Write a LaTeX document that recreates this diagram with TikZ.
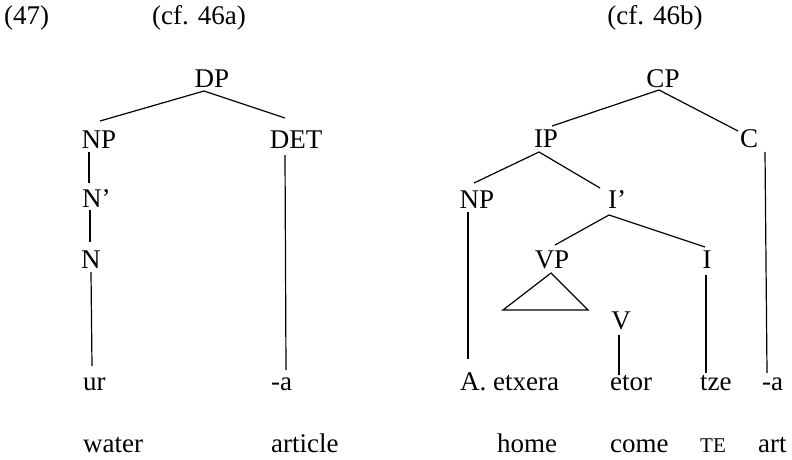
\documentclass[tikz,border=0pt]{standalone}
\usepackage{fontspec}
\setmainfont{Liberation Serif}
\begin{document}
\begin{tikzpicture}[x=1pt,y=-1pt,
  lab/.style={inner sep=0pt,font=\fontsize{27}{32}\selectfont},
  cat/.style={lab,anchor=base},
  word/.style={lab,anchor=base west},
  edge/.style={line width=1.2pt,black}]
\useasboundingbox (0,0) rectangle (792,460);
% headings
\node[word] (ex) at (4,25) {(47)};
\node[cat] (cfa) at (199,25) {(cf. 46a)};
\node[cat] (cfb) at (655,25) {(cf. 46b)};
% left tree
\node[cat] (DP) at (212,88) {DP};
\node[cat] (NPa) at (99,148) {NP};
\node[cat] (DET) at (296,148) {DET};
\node[word] (Nbar) at (82,207) {N’};
\node[word] (N) at (81,268) {N};
\node[word] (ur) at (83,390) {ur};
\node[word] (water) at (83,452) {water};
\node[word] (aa) at (271,390) {-a};
\node[word] (article) at (271,452) {article};
\draw[edge] ([shift={(-8,3)}]DP.base) -- ([shift={(1,-27)}]NPa.base);
\draw[edge] ([shift={(-8,3)}]DP.base) -- ([shift={(-11,-30)}]DET.base);
\draw[edge] ([shift={(-10,4)}]NPa.base) -- ([shift={(7,-24)}]Nbar.base west);
\draw[edge] ([shift={(8,3)}]Nbar.base west) -- ([shift={(9,-26)}]N.base west);
\draw[edge] ([shift={(10,4)}]N.base west) -- ([shift={(9,-24)}]ur.base west);
\draw[edge] ([shift={(-11,7)}]DET.base) -- ([shift={(15,-20)}]aa.base west);
% right tree
\node[cat] (CP) at (663,88) {CP};
\node[cat] (IP) at (546,147) {IP};
\node[cat] (C) at (749,147) {C};
\node[cat] (NPb) at (477,208) {NP};
\node[word] (Ibar) at (608,208) {I’};
\node[cat] (VP) at (552,268) {VP};
\node[cat] (I) at (707,268) {I};
\node[cat] (V) at (621,329) {V};
\node[word] (etxera) at (460,390) {A. etxera};
\node[word] (etor) at (610,390) {etor};
\node[word] (tze) at (700,390) {tze};
\node[word] (ab) at (762,390) {-a};
\node[word] (home) at (497,452) {home};
\node[word] (come) at (610,452) {come};
\node[word] (TE) at (700,452) {\fontsize{21}{24}\selectfont TE};
\node[word] (art) at (758,452) {art};
\draw[edge] ([shift={(-4,2)}]CP.base) -- ([shift={(6,-21)}]IP.base);
\draw[edge] ([shift={(-4,2)}]CP.base) -- ([shift={(-11,-16)}]C.base);
\draw[edge] ([shift={(16,5)}]C.base) -- ([shift={(5,-17)}]ab.base west);
\draw[edge] ([shift={(-7,5)}]IP.base) -- ([shift={(-3,-25)}]NPb.base);
\draw[edge] ([shift={(-7,5)}]IP.base) -- ([shift={(-8,-20)}]Ibar.base west);
\draw[edge] ([shift={(-9,4)}]NPb.base) -- ([shift={(8,-31)}]etxera.base west);
\draw[edge] ([shift={(1,7)}]Ibar.base west) -- ([shift={(3,-23)}]VP.base);
\draw[edge] ([shift={(1,7)}]Ibar.base west) -- ([shift={(-2,-21)}]I.base);
\draw[edge] ([shift={(-1,7)}]I.base) -- ([shift={(6,-17)}]tze.base west);
\draw[edge] ([shift={(-2,6)}]V.base) -- ([shift={(9,-15)}]etor.base west);
\draw[edge] ([shift={(-1,5)}]VP.base) -- ([shift={(-49,42)}]VP.base) -- ([shift={(36,42)}]VP.base) -- cycle;
\end{tikzpicture}
\end{document}
